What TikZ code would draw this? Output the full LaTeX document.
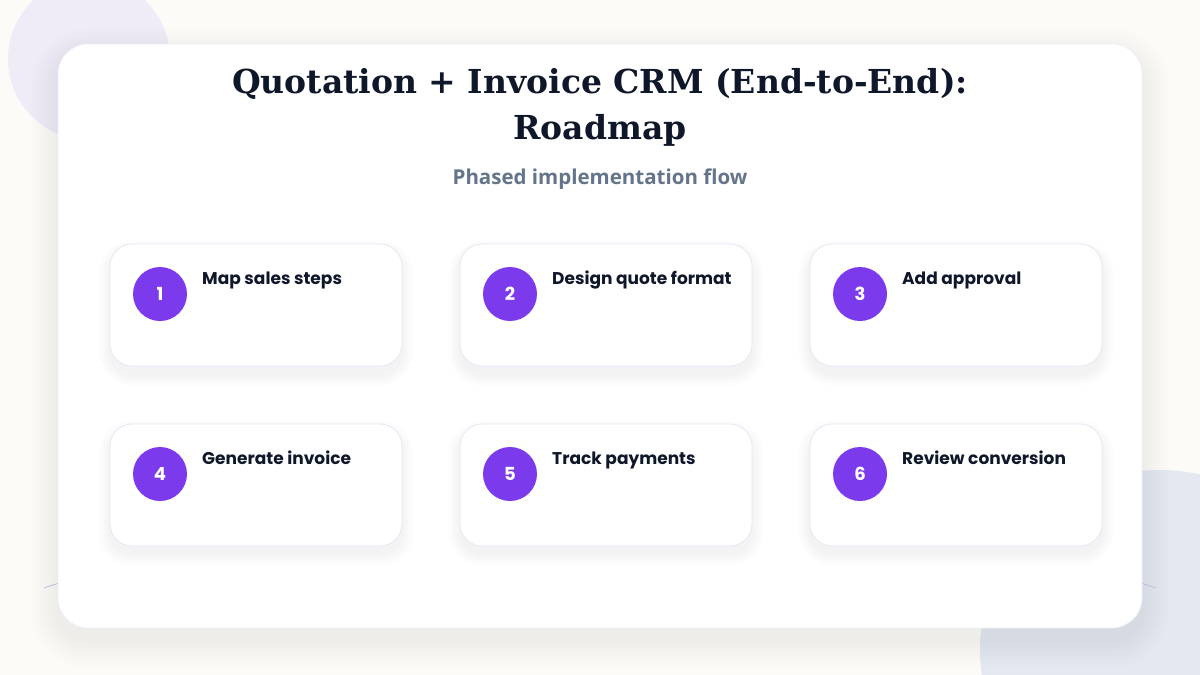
\documentclass[tikz,border=0pt]{standalone}
\usepackage{fontspec}
\setmainfont{DejaVu Serif}
\newfontfamily\labelfont{Poppins}
\newfontfamily\subfont{Open Sans}
\definecolor{PageBg}{HTML}{FCFBF8}
\definecolor{BlobLilac}{HTML}{EFEBF7}
\definecolor{BlobSlate}{HTML}{E4E8F0}
\definecolor{ArcLine}{HTML}{C9C3EA}
\definecolor{CardLine}{HTML}{E4E8F4}
\definecolor{ShadowTint}{HTML}{3A3F6B}
\definecolor{StepPurple}{HTML}{7C3AED}
\definecolor{Ink}{HTML}{0F172A}
\definecolor{SubInk}{HTML}{64748B}

\begin{document}
\begin{tikzpicture}[x=1pt,y=1pt,yscale=-1,xscale=1,
    panelbox/.style={fill=white, draw=CardLine!70, line width=0.6pt, rounded corners=30pt,
      minimum width=1084pt, minimum height=584pt, inner sep=0pt},
    stepcard/.style={fill=white, draw=CardLine, line width=0.8pt, rounded corners=22pt,
      minimum width=292pt, minimum height=122pt, inner sep=0pt},
    softshade/.style={fill=ShadowTint, opacity=#1},
    stepdot/.style={circle, fill=StepPurple, minimum size=54pt, inner sep=0pt, text=white,
      font=\labelfont\bfseries\fontsize{18}{18}\selectfont},
    steplabel/.style={anchor=base west, inner sep=0pt, text=Ink,
      font=\labelfont\bfseries\fontsize{17}{20}\selectfont}]

    % Page background and its size
    \fill[PageBg] (0,0) rectangle (1200,675);
    \useasboundingbox (0,0) rectangle (1200,675);

    % Soft blobs behind the panel
    \fill[BlobLilac] (89,59) circle (81);
    \fill[BlobSlate] (1160,650) circle (180);

    % Faint arc running under the panel
    \draw[ArcLine, line width=0.8pt] (44,588) .. controls (300,500) and (900,500) .. (1156,588);

    % Panel shadow, built from widening layers
    \foreach \k in {2,4,...,28}
      \fill[softshade=0.0045, rounded corners={30+\k}] ({58-\k},{56-\k}) rectangle ({1142+\k},{640+\k});

    % Main white panel
    \node (panel) [panelbox] at (600,336) {};

    % Title and subtitle
    \node (titleTop) [anchor=base, inner sep=0pt, text=Ink, font=\bfseries\fontsize{33}{40}\selectfont] at (600,93) {Quotation + Invoice CRM (End-to-End):};
    \node (titleBottom) [anchor=base, inner sep=0pt, text=Ink, font=\bfseries\fontsize{33}{40}\selectfont] at (600,139) {Roadmap};
    \node (subtitle) [anchor=base, inner sep=0pt, text=SubInk, font=\subfont\bfseries\fontsize{20.5}{24}\selectfont] at (600,184) {Phased implementation flow};

    % Step cards: number, column, row, label
    \foreach \num/\col/\row/\txt in {1/0/0/Map sales steps, 2/1/0/Design quote format, 3/2/0/Add approval,
                                     4/0/1/Generate invoice, 5/1/1/Track payments, 6/2/1/Review conversion} {
      % card shadow
      \foreach \k in {1,2,...,12}
        \fill[softshade=0.005, rounded corners={22+\k}] ({110+350*\col-\k},{252+180*\row-\k}) rectangle ({402+350*\col+\k},{374+180*\row+\k});
      \node (card\num) [stepcard] at ({256+350*\col},{305+180*\row}) {};
      \node (dot\num) [stepdot] at ({160+350*\col},{294+180*\row}) {\num};
      \node (label\num) [steplabel] at ({202+350*\col},{284+180*\row}) {\txt};
    }
\end{tikzpicture}
\end{document}
